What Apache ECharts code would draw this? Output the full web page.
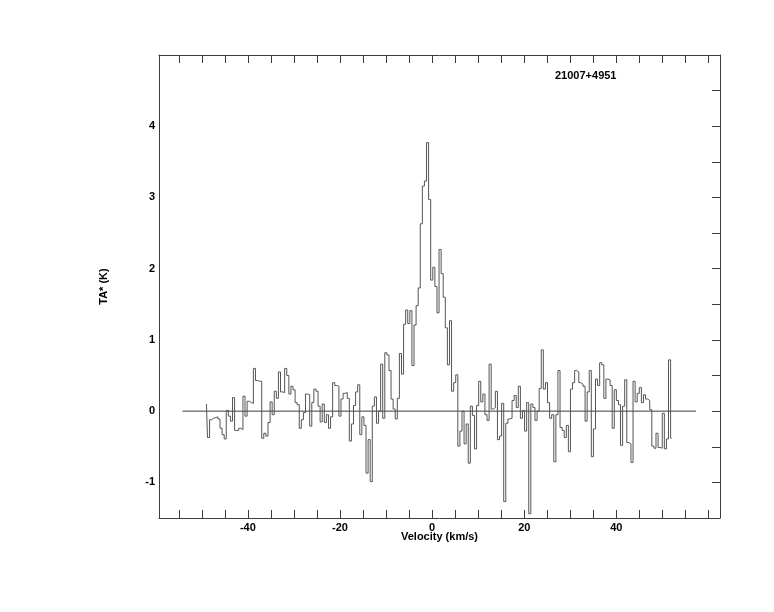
<!DOCTYPE html>
<html>
<head>
<meta charset="utf-8">
<script src="https://cdn.jsdelivr.net/npm/echarts@6/dist/echarts.min.js"></script>
<style>
html,body{margin:0;padding:0;background:#fff;}
#c{width:774px;height:612px;}
</style>
</head>
<body>
<div id="c"></div>
<script>
// Spectrum of 21007+4951: TA* (K) per channel, channels evenly spaced in velocity
const velocityFirst = -49.0;   // km/s, first channel
const velocityLast = 52.0;     // km/s, last channel
const taSeg1 = [0.10, -0.37, -0.12, -0.10, -0.09, -0.08, -0.11, -0.24, -0.33, -0.39, 0.01, -0.07, -0.14, 0.19, -0.27, -0.27, -0.24, -0.26, 0.21, -0.07, 0.14, 0.12, 0.11, 0.60, 0.43, 0.42, 0.42, -0.38, -0.31, -0.35, -0.16, 0.13, -0.05, 0.28, 0.18, 0.55, 0.27, 0.26];
const taSeg2 = [0.60, 0.50, 0.24, 0.35, 0.30, 0.12, 0.09, -0.24, -0.12, -0.02, 0.24, 0.23, -0.21, 0.12, 0.31, 0.28, 0.07, -0.15, 0.10, -0.16, -0.05, -0.24, -0.08, 0.40, 0.36, 0.35, -0.07, 0.17, 0.25, 0.26, 0.18, -0.42, -0.18, 0.08, 0.27, 0.37, -0.33];
const taSeg3 = [-0.08, -0.20, -0.87, -0.40, -0.99, 0.07, 0.20, -0.17, 0.00, 0.66, -0.10, 0.82, 0.79, 0.57, 0.17, 0.03, -0.11, 0.18, 0.81, 0.52, 1.22, 1.42, 1.23, 1.41, 0.64, 1.21, 1.48, 1.73, 2.63, 3.16, 3.23, 3.77, 2.97, 1.84, 2.02, 1.75, 1.38, 2.27, 1.93, 1.60, 1.17, 0.65, 1.27, 0.28, 0.40, 0.51];
const taSeg4 = [-0.49, -0.28, 0.00, -0.46, -0.18, -0.73, 0.07, -0.06, -0.53, 0.08, 0.42, 0.13, 0.24, -0.05, -0.13, 0.66, 0.03, 0.05, 0.28, -0.40, -0.35, 0.11, -1.27, -0.17, -0.11, -0.10, 0.15, 0.22, 0.05, 0.35, -0.10, 0.01, -0.28, 0.12, -1.44, 0.10, 0.05, -0.13, 0.00, 0.32, 0.86, 0.31, 0.40, 0.12, -0.10, -0.05, -0.71, -0.05, 0.57];
const taSeg5 = [-0.23, -0.27, -0.37, -0.20, -0.57, 0.31, 0.40, 0.57, 0.55, 0.40, 0.38, 0.35, -0.14, 0.27, 0.57, -0.64, -0.25, 0.45, 0.36];
const taSeg6 = [0.68, 0.65, 0.18, 0.45, 0.44, 0.36, -0.24, 0.30, 0.15, 0.09, -0.48, 0.07, 0.44, -0.44, -0.46, -0.72, 0.42, 0.13, 0.25, 0.33, 0.12, 0.23, 0.17, 0.15, 0.02, -0.49, -0.52, -0.31, -0.51, -0.52, -0.03, -0.53, -0.39, 0.72, -0.38];

const baselineRange = [-54.2, 57.3];
const xTickValues = [-55, -50, -45, -40, -35, -30, -25, -20, -15, -10, -5, 0, 5, 10, 15, 20, 25, 30, 35, 40, 45, 50, 55, 60];
const xLabelValues = [-40, -20, 0, 20, 40];
const yLabelValues = [-1, 0, 1, 2, 3, 4];
const sourceName = '21007+4951';
const xTitle = 'Velocity (km/s)';
const yTitle = 'TA* (K)';

const ta = [].concat(taSeg1, taSeg2, taSeg3, taSeg4, taSeg5, taSeg6);
const n = ta.length;
const dv = (velocityLast - velocityFirst) / (n - 1);
const spectrum = ta.map((t, i) => [velocityFirst + i * dv, t]);

const font = 'Liberation Sans, Arial, Helvetica, sans-serif';
const ink = '#3c3c3c';
const chart = echarts.init(document.getElementById('c'));

const xBase = {
  type: 'value', min: -59.3, max: 62.5,
  splitLine: {show: false},
  axisLine: {show: true, onZero: false, lineStyle: {color: ink, width: 1}},
  axisTick: {show: true, inside: true, length: 8, customValues: xTickValues, lineStyle: {color: ink}},
};
const yBase = {
  type: 'value', min: -1.5, max: 5, interval: 0.5,
  splitLine: {show: false},
  axisLine: {show: true, onZero: false, lineStyle: {color: ink, width: 1}},
  axisTick: {show: true, inside: true, length: 8, lineStyle: {color: ink}},
};

chart.setOption({
  animation: false,
  backgroundColor: '#fff',
  title: {
    text: sourceName, left: 555, top: 70, padding: 0,
    textStyle: {fontFamily: font, fontSize: 11, fontWeight: 'bold', color: '#000'}
  },
  grid: {left: 159, top: 55, width: 561, height: 463, show: false},
  xAxis: [
    Object.assign({}, xBase, {
      position: 'bottom',
      name: xTitle, nameLocation: 'middle', nameGap: 13, nameMoveOverlap: false,
      nameTextStyle: {fontFamily: font, fontSize: 11, fontWeight: 'bold', color: '#000'},
      axisLabel: {show: true, customValues: xLabelValues, margin: 4,
        fontFamily: font, fontSize: 11, fontWeight: 'bold', color: '#000'}
    }),
    Object.assign({}, xBase, {position: 'top', axisLabel: {show: false}})
  ],
  yAxis: [
    Object.assign({}, yBase, {
      position: 'left',
      name: yTitle, nameLocation: 'middle', nameGap: 50, nameRotate: 90, nameMoveOverlap: false,
      nameTextStyle: {fontFamily: font, fontSize: 11, fontWeight: 'bold', color: '#000'},
      axisTick: {show: false},
      axisLabel: {show: true, margin: 4,
        fontFamily: font, fontSize: 11, fontWeight: 'bold', color: '#000',
        formatter: v => (yLabelValues.indexOf(Math.round(v * 100) / 100) >= 0 ? String(Math.round(v)) : '')}
    }),
    Object.assign({}, yBase, {position: 'right', axisLabel: {show: false}})
  ],
  series: [
    {
      type: 'line', xAxisIndex: 0, yAxisIndex: 0,
      data: [[baselineRange[0], 0], [baselineRange[1], 0]],
      symbol: 'none', silent: true,
      lineStyle: {color: ink, width: 1}
    },
    {
      type: 'line', xAxisIndex: 0, yAxisIndex: 0,
      data: spectrum, step: 'middle',
      symbol: 'none', silent: true,
      lineStyle: {color: '#555', width: 1}
    }
  ]
});
</script>
</body>
</html>
